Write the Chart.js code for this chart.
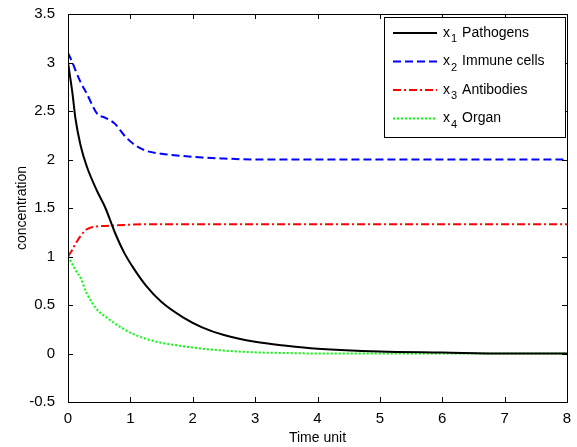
<!DOCTYPE html>
<html>
<head>
<meta charset="utf-8">
<script src="https://cdn.jsdelivr.net/npm/chart.js@4.4.1/dist/chart.umd.min.js"></script>
<style>
  html, body { margin: 0; padding: 0; background: #fff; }
  #wrap { width: 577px; height: 447px; }
</style>
</head>
<body>
<div id="wrap"><canvas id="chart" width="577" height="447"></canvas></div>
<script>
// =========================
// Data
// =========================
const timePoints = [0, 0.07, 0.12, 0.2, 0.3, 0.47, 0.6, 0.75, 0.9, 1.05, 1.25, 1.5, 1.85, 2.15, 2.5, 3, 3.5, 4, 5, 6, 7, 8];
const pathogens  = [3.0, 2.69, 2.42, 2.15, 1.93, 1.67, 1.50, 1.25, 1.04, 0.88, 0.70, 0.53, 0.37, 0.27, 0.19, 0.12, 0.08, 0.05, 0.02, 0.01, 0.0, 0.0];
const immune     = [3.1, 3.0, 2.92, 2.80, 2.68, 2.47, 2.43, 2.37, 2.25, 2.16, 2.09, 2.06, 2.035, 2.02, 2.01, 2.0, 2.0, 2.0, 2.0, 2.0, 2.0, 2.0];
const antibodies = [1.0, 1.07, 1.13, 1.21, 1.28, 1.31, 1.315, 1.32, 1.325, 1.33, 1.333, 1.333, 1.333, 1.333, 1.333, 1.333, 1.333, 1.333, 1.333, 1.333, 1.333, 1.333];
const organ      = [1.0, 0.92, 0.86, 0.78, 0.62, 0.45, 0.38, 0.31, 0.25, 0.20, 0.15, 0.11, 0.075, 0.05, 0.03, 0.012, 0.005, 0.0, 0.0, 0.0, 0.0, 0.0];
const xTicks = [0, 1, 2, 3, 4, 5, 6, 7, 8];
const yTicks = [-0.5, 0, 0.5, 1, 1.5, 2, 2.5, 3, 3.5];

const legendItems = [
    { sub: '1', text: 'Pathogens',    color: '#000000', dash: [] },
    { sub: '2', text: 'Immune cells', color: '#0000ff', dash: [8, 4] },
    { sub: '3', text: 'Antibodies',   color: '#ff0000', dash: [8, 3, 2, 3] },
    { sub: '4', text: 'Organ',        color: '#00ff00', dash: [2, 2] }
];

const FONT = '"Liberation Sans", Arial, sans-serif';

function toPoints(values) {
    return timePoints.map((t, i) => ({ x: t, y: values[i] }));
}

function series(label, values, item) {
    return {
        label: label,
        data: toPoints(values),
        borderColor: item.color,
        borderDash: item.dash,
        borderWidth: 2,
        pointRadius: 0,
        fill: false,
        cubicInterpolationMode: 'monotone'
    };
}

// =========================
// Box, inner ticks and legend (MATLAB look)
// =========================
const matlabFrame = {
    id: 'matlabFrame',
    afterDatasetsDraw(chart) {
        const { ctx, chartArea: a, scales } = chart;
        ctx.save();
        ctx.strokeStyle = '#000';
        ctx.lineWidth = 1;
        ctx.setLineDash([]);
        ctx.strokeRect(a.left + 0.5, a.top + 0.5, a.right - a.left, a.bottom - a.top);
        const tl = 5;
        ctx.beginPath();
        xTicks.forEach(v => {
            const px = Math.round(scales.x.getPixelForValue(v)) + 0.5;
            ctx.moveTo(px, a.bottom); ctx.lineTo(px, a.bottom - tl);
            ctx.moveTo(px, a.top); ctx.lineTo(px, a.top + tl);
        });
        yTicks.forEach(v => {
            const py = Math.round(scales.y.getPixelForValue(v)) + 0.5;
            ctx.moveTo(a.left, py); ctx.lineTo(a.left + tl, py);
            ctx.moveTo(a.right, py); ctx.lineTo(a.right - tl, py);
        });
        ctx.stroke();

        // legend
        const lx = 384, ly = 17, lw = 181, lh = 120;
        ctx.fillStyle = '#fff';
        ctx.fillRect(lx, ly, lw, lh);
        ctx.strokeRect(lx + 0.5, ly + 0.5, lw, lh);
        legendItems.forEach((it, i) => {
            const cy = ly + 16 + i * 28.5;
            ctx.strokeStyle = it.color;
            ctx.lineWidth = 2;
            ctx.setLineDash(it.dash);
            ctx.beginPath();
            ctx.moveTo(393, cy); ctx.lineTo(437, cy);
            ctx.stroke();
            ctx.setLineDash([]);
            ctx.fillStyle = '#000';
            ctx.textBaseline = 'middle';
            ctx.font = '14px ' + FONT;
            ctx.fillText('x', 443, cy);
            const xw = ctx.measureText('x').width;
            ctx.font = '11px ' + FONT;
            ctx.fillText(it.sub, 443 + xw + 1, cy + 6);
            const sw = ctx.measureText(it.sub).width;
            ctx.font = '14px ' + FONT;
            ctx.fillText(it.text, 443 + xw + sw + 6, cy);
        });
        ctx.restore();
    }
};

const whiteBg = {
    id: 'whiteBg',
    beforeDraw(chart) {
        const c = chart.ctx;
        c.save();
        c.fillStyle = '#fff';
        c.fillRect(0, 0, chart.width, chart.height);
        c.restore();
    }
};

const fmt = v => String(Math.round(v * 10) / 10);

new Chart(document.getElementById('chart'), {
    type: 'line',
    data: {
        datasets: [
            series('x1 Pathogens', pathogens, legendItems[0]),
            series('x2 Immune cells', immune, legendItems[1]),
            series('x3 Antibodies', antibodies, legendItems[2]),
            series('x4 Organ', organ, legendItems[3])
        ]
    },
    options: {
        responsive: false,
        animation: false,
        layout: { padding: { left: 0, right: 10, top: 11, bottom: 0 } },
        plugins: {
            legend: { display: false },
            tooltip: { enabled: false }
        },
        scales: {
            x: {
                type: 'linear',
                min: 0, max: 8,
                afterFit(s) { s.height = 45; },
                afterBuildTicks(s) { s.ticks = xTicks.map(v => ({ value: v })); },
                grid: { display: false },
                border: { display: false },
                ticks: { color: '#000', font: { family: FONT, size: 15 }, padding: 0, maxRotation: 0, callback: fmt },
                title: { display: true, text: 'Time unit', color: '#000', font: { family: FONT, size: 14 }, padding: { top: 2, bottom: 0 } }
            },
            y: {
                min: -0.5, max: 3.5,
                afterFit(s) { s.width = 68; },
                afterBuildTicks(s) { s.ticks = yTicks.map(v => ({ value: v })); },
                grid: { display: false },
                border: { display: false },
                ticks: { color: '#000', font: { family: FONT, size: 15 }, padding: 5, callback: fmt },
                title: { display: true, text: 'concentration', color: '#000', font: { family: FONT, size: 14 }, padding: { top: 14, bottom: 0 } }
            }
        }
    },
    plugins: [whiteBg, matlabFrame]
});
</script>
</body>
</html>
